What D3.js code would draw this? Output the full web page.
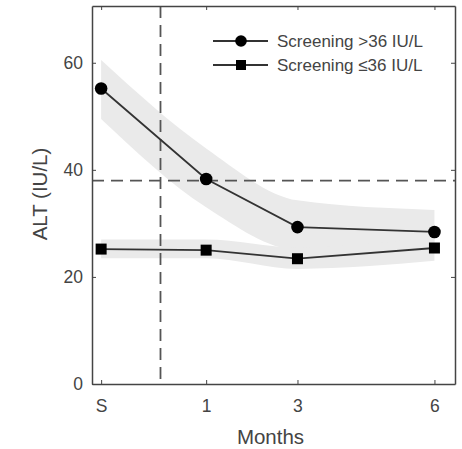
<!DOCTYPE html>
<meta charset="utf-8">
<style>
  body { margin: 0; background: #fff; }
  text { font-family: "Liberation Sans", Arial, sans-serif; fill: #444; }
</style>
<svg width="462" height="449"></svg>
<script src="https://cdn.jsdelivr.net/npm/d3@7"></script>
<script>

// months after treatment start; "S" = screening visit
var months = [-1.3, 1, 3, 6];
var monthLabels = ["S", "1", "3", "6"];

// mean ALT (IU/L) and shaded interval, group with screening ALT > 36
var highMean  = [55.2, 38.3, 29.3, 28.4];
var highUpper = [60.5, 44.0, 34.3, 32.5];
var highLower = [49.5, 33.0, 25.0, 24.5];

// group with screening ALT <= 36
var lowMean  = [25.2, 25.0, 23.4, 25.4];
var lowUpper = [27.0, 27.0, 25.5, 27.5];
var lowLower = [23.5, 23.5, 21.5, 23.0];

var yTicks = [0, 20, 40, 60];
var uln = 38;        // horizontal reference line
var startMonth = 0;  // vertical reference line

var margin = {top: 6, right: 7, bottom: 65, left: 92},
    width = 462 - margin.left - margin.right,
    height = 449 - margin.top - margin.bottom;

var svg = d3.select("svg"),
    g = svg.append("g").attr("transform", "translate(" + margin.left + "," + margin.top + ")");

var x = d3.scaleLinear().domain([-1.5, 6.45]).range([0, width]);
var y = d3.scaleLinear().domain([0, 70.6]).range([height, 0]);

function rows(mean, lo, hi) {
  return months.map(function(m, i) { return {m: m, v: mean[i], lo: lo[i], hi: hi[i]}; });
}
var high = rows(highMean, highLower, highUpper),
    low = rows(lowMean, lowLower, lowUpper);

var band = d3.area()
    .curve(d3.curveMonotoneX)
    .x(function(d) { return x(d.m); })
    .y0(function(d) { return y(d.lo); })
    .y1(function(d) { return y(d.hi); });

var line = d3.line()
    .x(function(d) { return x(d.m); })
    .y(function(d) { return y(d.v); });

// bands
[high, low].forEach(function(s) {
  g.append("path").attr("d", band(s)).attr("fill", "#eaeaea");
});

// reference lines
g.append("line")
    .attr("x1", 0).attr("x2", width)
    .attr("y1", y(uln)).attr("y2", y(uln))
    .attr("stroke", "#555").attr("stroke-width", 1.8)
    .attr("stroke-dasharray", "12,7");

g.append("line")
    .attr("x1", x(startMonth)).attr("x2", x(startMonth))
    .attr("y1", 0).attr("y2", height)
    .attr("stroke", "#555").attr("stroke-width", 1.8)
    .attr("stroke-dasharray", "12,7");

// series lines + markers
g.append("path").attr("d", line(high)).attr("fill", "none")
    .attr("stroke", "#333").attr("stroke-width", 1.8);
g.append("path").attr("d", line(low)).attr("fill", "none")
    .attr("stroke", "#333").attr("stroke-width", 1.8);

g.selectAll(".dot").data(high).enter().append("circle")
    .attr("cx", function(d) { return x(d.m); })
    .attr("cy", function(d) { return y(d.v); })
    .attr("r", 6.3)
    .attr("fill", "#000");

g.selectAll(".sq").data(low).enter().append("rect")
    .attr("x", function(d) { return x(d.m) - 5.5; })
    .attr("y", function(d) { return y(d.v) - 5.5; })
    .attr("width", 11).attr("height", 11)
    .attr("fill", "#000");

// axes, MATLAB style box with inward ticks
var xAxis = g.append("g").attr("transform", "translate(0," + height + ")")
    .call(d3.axisBottom(x).tickValues(months)
      .tickFormat(function(d, i) { return monthLabels[i]; })
      .tickSizeInner(-4).tickSizeOuter(0).tickPadding(16));
var xTop = g.append("g")
    .call(d3.axisTop(x).tickValues(months).tickFormat("").tickSizeInner(-4).tickSizeOuter(0));
var yAxis = g.append("g")
    .call(d3.axisLeft(y).tickValues(yTicks).tickSizeInner(-4).tickSizeOuter(0).tickPadding(9));
var yRight = g.append("g").attr("transform", "translate(" + width + ",0)")
    .call(d3.axisRight(y).tickValues(yTicks).tickFormat("").tickSizeInner(-4).tickSizeOuter(0));

[xAxis, xTop, yAxis, yRight].forEach(function(a) {
  a.select(".domain").attr("stroke", "#444").attr("stroke-width", 1.5);
  a.selectAll(".tick line").attr("stroke", "#444");
  a.selectAll("text").attr("font-size", 17.5).attr("font-family", null).style("fill", "#444");
});

g.append("text")
    .attr("x", width / 2 - 3)
    .attr("y", height + 60)
    .attr("text-anchor", "middle")
    .attr("font-size", 20.5)
    .text("Months");

g.append("text")
    .attr("transform", "translate(" + (-45) + "," + (height / 2 - 1) + ")rotate(-90)")
    .attr("text-anchor", "middle")
    .attr("font-size", 20.5)
    .text("ALT (IU/L)");

// legend
var legend = g.append("g").attr("transform", "translate(" + (213 - margin.left) + ",0)");
var items = [
  {label: "Screening >36 IU/L", shape: "circle", y: 41 - margin.top},
  {label: "Screening \u226436 IU/L", shape: "square", y: 65 - margin.top}
];
items.forEach(function(it) {
  var row = legend.append("g").attr("transform", "translate(0," + it.y + ")");
  row.append("line").attr("x1", 0).attr("x2", 55).attr("stroke", "#333").attr("stroke-width", 1.8);
  if (it.shape === "circle") {
    row.append("circle").attr("cx", 28).attr("r", 5.8).attr("fill", "#000");
  } else {
    row.append("rect").attr("x", 23).attr("y", -5).attr("width", 10).attr("height", 10).attr("fill", "#000");
  }
  row.append("text").attr("x", 64).attr("dy", "0.35em").attr("font-size", 17).text(it.label);
});

</script>
